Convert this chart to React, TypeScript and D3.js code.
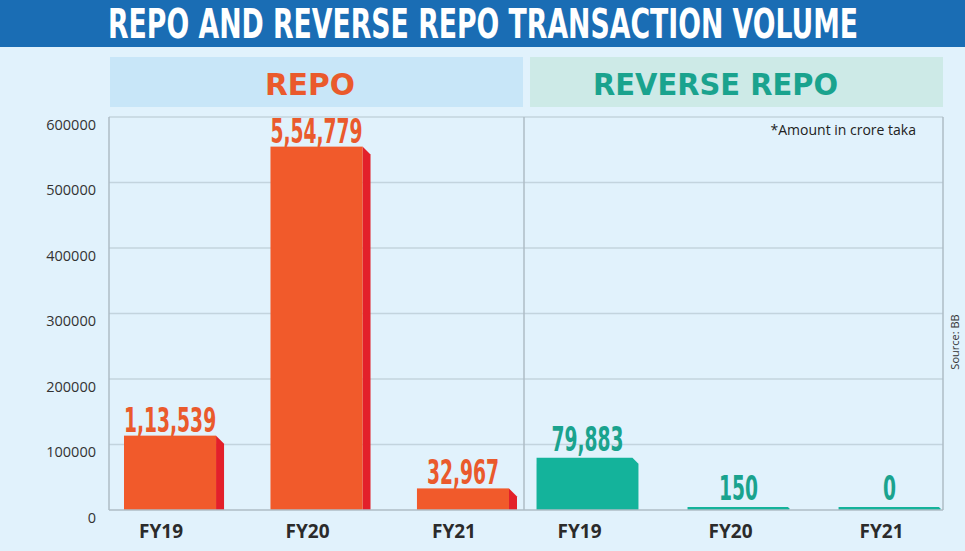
import React from "react";
import * as d3 from "d3";

const repoCategories = ["FY19", "FY20", "FY21"];
const repoValues = [113539, 554779, 32967];
const reverseCategories = ["FY19", "FY20", "FY21"];
const reverseValues = [79883, 150, 0];
const yTicks = [0, 100000, 200000, 300000, 400000, 500000, 600000];
const title = "REPO AND REVERSE REPO TRANSACTION VOLUME";
const note = "*Amount in crore taka";
const source = "Source: BB";

const W = 965;
const H = 551;
const condensed = "'Liberation Sans Narrow', 'DejaVu Sans Condensed', 'DejaVu Sans', sans-serif";
const sans = "'Open Sans', 'Noto Sans', sans-serif";

// Indian digit grouping: 5,54,779
function indianFormat(n: number): string {
  const s = String(Math.round(n));
  if (s.length <= 3) return s;
  const last3 = s.slice(-3);
  let rest = s.slice(0, -3);
  const parts: string[] = [];
  while (rest.length > 2) {
    parts.unshift(rest.slice(-2));
    rest = rest.slice(0, -2);
  }
  if (rest.length) parts.unshift(rest);
  return parts.join(",") + "," + last3;
}

function CondText(props: { x: number; y: number; fill: string; size: number; sx: number; anchor?: string; len?: number; children: React.ReactNode }) {
  return (
    <g transform={`translate(${props.x},${props.y}) scale(${props.sx},1)`}>
      <text x={0} y={0} textAnchor={props.anchor || "middle"} fontFamily={condensed} fontWeight={700} fontSize={props.size}
        fill={props.fill} textLength={props.len ? props.len / props.sx : undefined}
        lengthAdjust={props.len ? "spacingAndGlyphs" : undefined}>{props.children}</text>
    </g>
  );
}

export default function App() {
  const left = 109, right = 943, mid = 524, top = 117, bottom = 510;
  const y = d3.scaleLinear().domain([0, 600000]).range([bottom, top]);
  const xRepo = d3.scaleBand<string>().domain(repoCategories).range([109, 532]).paddingInner(0.317).paddingOuter(0.1024);
  const xRev = d3.scaleBand<string>().domain(reverseCategories).range([524, 953]).paddingInner(0.325).paddingOuter(0.083);

  const orange = "#f15a2b";
  const side = "#e3202a";
  const teal = "#14b39b";
  const orangeText = "#ea5a2c";
  const tealText = "#1aa38e";
  const grid = "#c3d4de";
  const sx = 0.63;

  return (
    <svg width={W} height={H} style={{ position: "absolute", left: 0, top: 0, display: "block" }}>
      <defs>
        <clipPath id="repoClip">
          <rect x={0} y={0} width={522} height={H} />
        </clipPath>
      </defs>
      <rect x={0} y={0} width={W} height={H} fill="#e1f2fc" />
      <rect x={0} y={0} width={W} height={47} fill="#1a6db4" />
      <CondText x={108} y={38} sx={0.66} size={40} fill="#ffffff" anchor="start" len={750}>{title}</CondText>

      <rect x={110} y={57} width={413} height={50} fill="#c8e6f8" />
      <rect x={530} y={57} width={413} height={50} fill="#cdeae7" />
      <CondText x={310} y={95} sx={0.75} size={30} fill={orangeText} len={90}>REPO</CondText>
      <CondText x={715.5} y={95} sx={0.75} size={30} fill={tealText} len={245}>REVERSE REPO</CondText>

      {yTicks.map((t) => (
        <g key={t}>
          {t > 0 && <line x1={left} x2={right} y1={y(t)} y2={y(t)} stroke={grid} strokeWidth={1.5} />}
          <text x={96} y={y(t) + 9} dominantBaseline="middle" textAnchor="end" fontFamily={sans}
            fontSize={14.5} fill="#333">{t}</text>
        </g>
      ))}
      <line x1={left} x2={left} y1={top} y2={bottom} stroke="#aebcc6" strokeWidth={1.5} />
      <line x1={right} x2={right} y1={top} y2={bottom} stroke="#aebcc6" strokeWidth={1.5} />
      <line x1={mid} x2={mid} y1={top} y2={bottom} stroke="#aebcc6" strokeWidth={1.5} />

      <g clipPath="url(#repoClip)">
        {repoCategories.map((c, i) => {
          const x0 = xRepo(c)!;
          const bw = xRepo.bandwidth();
          const fw = bw - 8;
          const yt = y(repoValues[i]);
          return (
            <g key={c}>
              <polygon points={`${x0 + fw},${yt} ${x0 + fw + 8},${yt + 8} ${x0 + fw + 8},${bottom} ${x0 + fw},${bottom}`} fill={side} />
              <rect x={x0} y={yt} width={fw} height={bottom - yt} fill={orange} />
            </g>
          );
        })}
      </g>
      {repoCategories.map((c, i) => {
        const x0 = xRepo(c)!;
        const fw = xRepo.bandwidth() - 8;
        const yt = y(repoValues[i]);
        return (
          <g key={c}>
            <CondText x={x0 + fw / 2} y={yt - 4} size={33} sx={sx} fill={orangeText}>{indianFormat(repoValues[i])}</CondText>
            <text x={x0 + fw / 2 - 9} y={538} textAnchor="middle" fontFamily={sans} fontWeight={700}
              fontSize={19} fill="#2b2b2b">{c}</text>
          </g>
        );
      })}

      {reverseCategories.map((c, i) => {
        const x0 = xRev(c)!;
        const fw = xRev.bandwidth();
        const yt = Math.min(y(reverseValues[i]), bottom - 3);
        const r = Math.min(6, (bottom - yt) / 2);
        const path = `M${x0},${bottom} L${x0},${yt} L${x0 + fw - r},${yt} L${x0 + fw},${yt + r} L${x0 + fw},${bottom} Z`;
        return (
          <g key={c}>
            <path d={path} fill={teal} />
            <CondText x={x0 + fw / 2} y={Math.min(yt - 7, 503)} size={33} sx={sx} fill={tealText}>{indianFormat(reverseValues[i])}</CondText>
            <text x={x0 + fw / 2 - 8} y={538} textAnchor="middle" fontFamily={sans} fontWeight={700}
              fontSize={19} fill="#2b2b2b">{c}</text>
          </g>
        );
      })}
      <line x1={left} x2={right} y1={bottom} y2={bottom} stroke="#aebcc6" strokeWidth={1.5} />

      <text x={916} y={135} textAnchor="end" fontFamily={sans} fontSize={14} fill="#222">{note}</text>
      <text transform={`translate(959,342) rotate(-90)`} textAnchor="middle" fontFamily={sans} fontSize={11}
        fill="#333">{source}</text>
    </svg>
  );
}
